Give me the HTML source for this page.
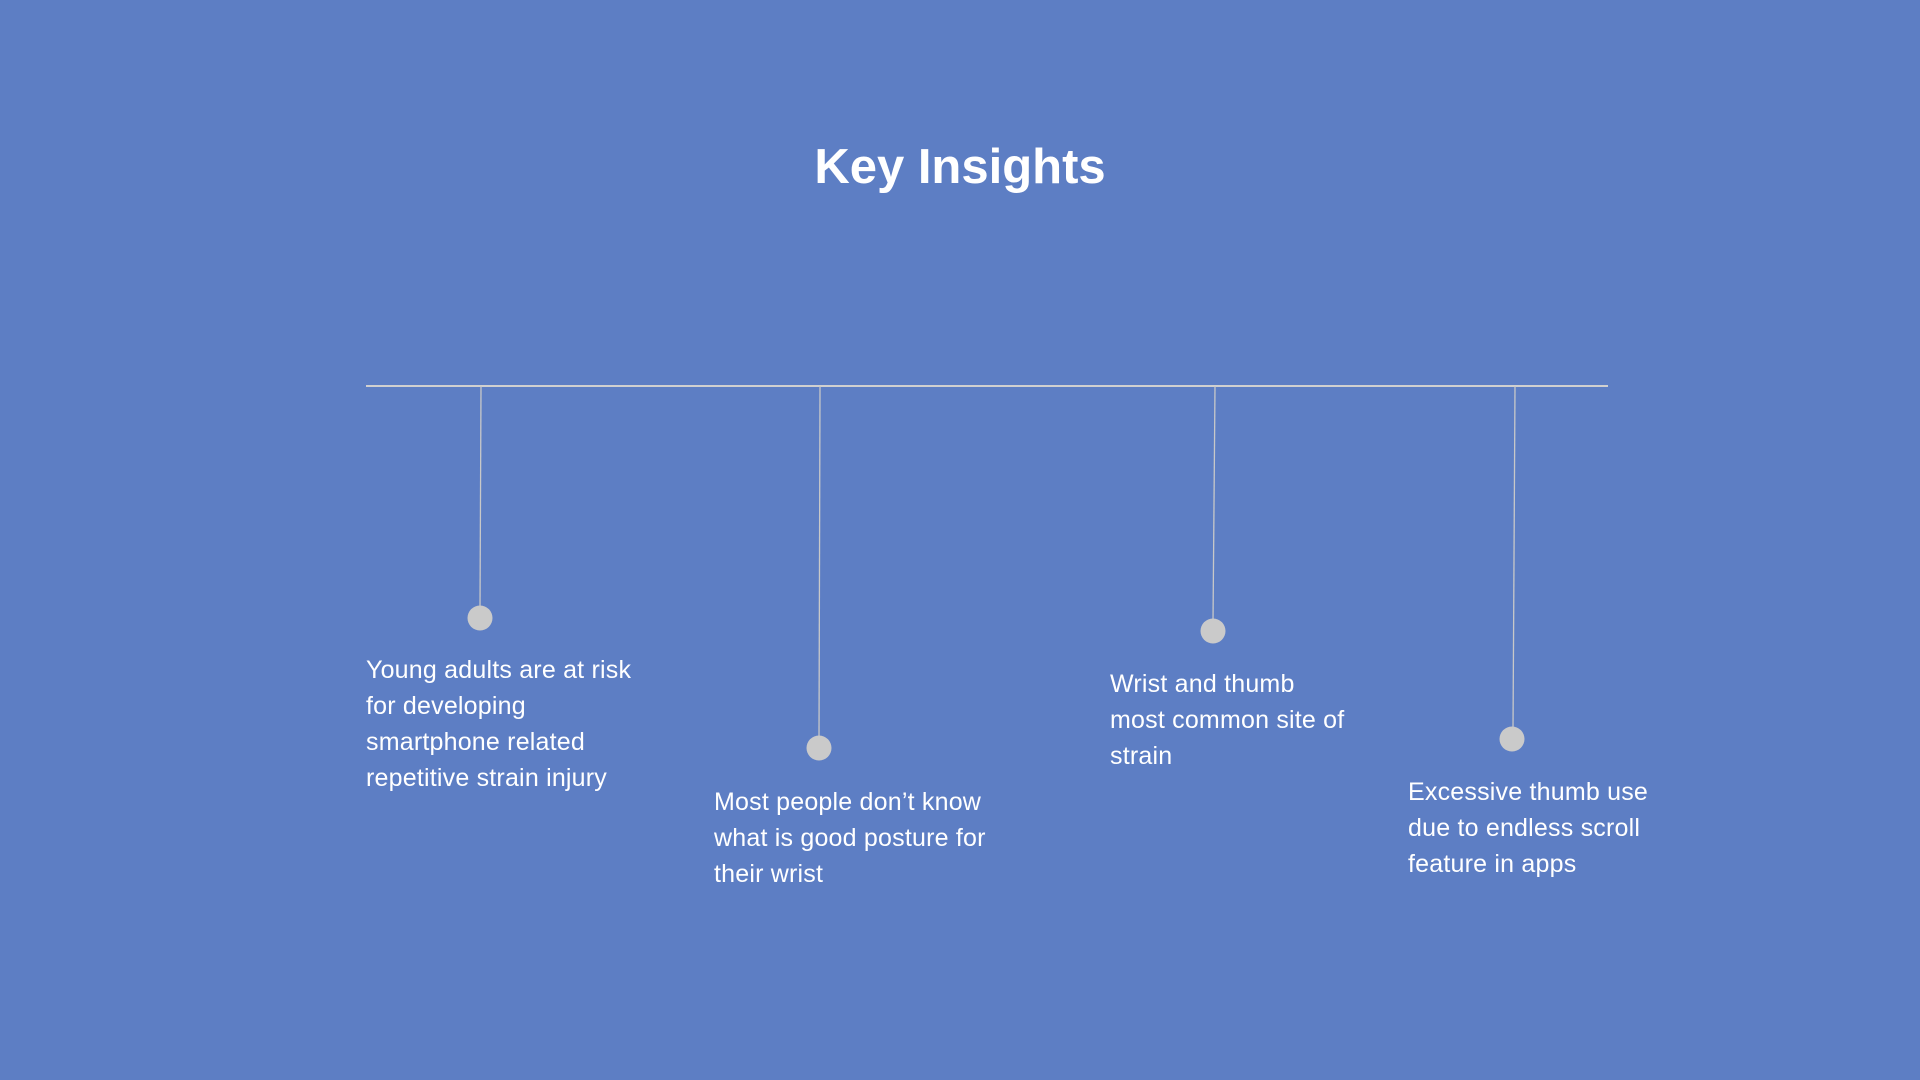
<!DOCTYPE html>
<html><head><meta charset="utf-8"><style>
html,body{margin:0;padding:0}
body{width:1920px;height:1080px;background:#5d7ec4;position:relative;overflow:hidden;font-family:"Liberation Sans",sans-serif;color:#fff}
h1{position:absolute;left:0;width:1920px;top:137px;margin:0;text-align:center;font-size:49px;line-height:60px;font-weight:bold}
.t{position:absolute;font-size:25px;line-height:36px;white-space:nowrap;letter-spacing:0.2px}
svg{position:absolute;left:0;top:0}
</style></head><body>
<svg width="1920" height="1080">
<line x1="366" y1="386" x2="1608" y2="386" stroke="#d0d0d0" stroke-width="2"/>
<g stroke="#c8c8c8" stroke-width="1.3">
<line x1="481" y1="386" x2="480" y2="610"/>
<line x1="820" y1="386" x2="819" y2="740"/>
<line x1="1215" y1="386" x2="1213" y2="623"/>
<line x1="1515" y1="386" x2="1513" y2="731"/>
</g>
<g fill="#cacaca">
<circle cx="480" cy="618" r="12.5"/>
<circle cx="819" cy="748" r="12.5"/>
<circle cx="1213" cy="631" r="12.5"/>
<circle cx="1512" cy="739" r="12.5"/>
</g>
</svg>
<h1>Key Insights</h1>
<div class="t" style="left:366px;top:652px">Young adults are at risk<br>for developing<br>smartphone related<br>repetitive strain injury</div>
<div class="t" style="left:714px;top:784px">Most people don’t know<br>what is good posture for<br>their wrist</div>
<div class="t" style="left:1110px;top:666px">Wrist and thumb<br>most common site of<br>strain</div>
<div class="t" style="left:1408px;top:774px">Excessive thumb use<br>due to endless scroll<br>feature in apps</div>
</body></html>
